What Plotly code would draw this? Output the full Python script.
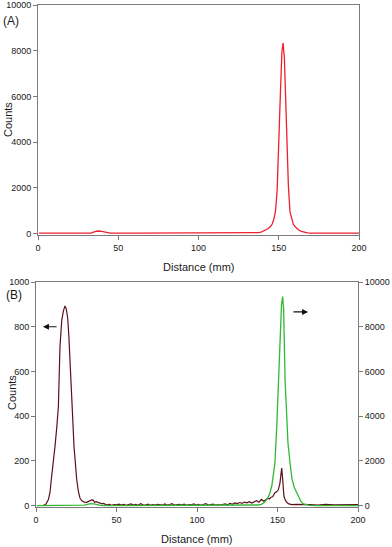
import plotly.graph_objects as go

# ---------------- Panel A data (red) ----------------
dist_a = [0.6, 10, 20, 30, 33, 35, 37, 39, 41, 43, 45, 60, 80, 100, 120, 135, 137, 139, 141,
          143, 145, 146, 147, 148, 149, 150, 151, 152, 152.7, 153.5, 154, 155, 156, 157,
          158, 159, 160, 161, 162, 164, 166, 168, 170, 185, 200]
counts_a = [20, 20, 20, 20, 25, 80, 115, 105, 80, 30, 20, 18, 18, 18, 20, 22, 45, 70, 120,
            200, 320, 430, 650, 1000, 1900, 3600, 6100, 8000, 8330, 7700, 6600, 4600, 2100, 950,
            620, 420, 320, 250, 180, 100, 60, 30, 18, 18, 18]

# ---------------- Panel B data ----------------
# dark red trace (left axis)
dist_b1 = [4.2, 6, 7.7, 8.7, 9.7, 10.8, 11.8, 12.9, 13.9, 14.9, 16, 17, 18, 18.8, 19.7, 20.4,
           21.1, 22.2, 23, 23.6, 24.4, 25.3, 26.3, 27.3, 28.5, 30, 31.5, 33, 34.6, 35.5, 36.4,
           37.3, 38.5, 39.8, 41, 42, 43.9, 45.5, 47, 48.5, 50, 51.5, 53, 54.5, 56, 57.5, 59,
           60.5, 62, 63.5, 65, 66.5, 68, 69.5, 71, 72.5, 74, 75.5, 77, 78.5, 80, 81.5, 83, 84.5,
           86, 87.5, 89, 90.5, 92, 93.5, 95, 96.5, 98, 99.5, 101, 102.5, 104, 105.5, 107, 108.5,
           110, 111.5, 113, 114.5, 116, 117.5, 119, 120.5, 122, 123.5, 125, 126.5, 128, 129.5,
           131, 132.5, 134, 135.5, 137, 138.5, 140, 141.5, 143, 144, 145, 146, 147, 148.4, 149.5,
           150.5, 151.5, 152, 152.6, 153.2, 154, 154.8, 155.7, 157, 159, 162, 166, 170, 175, 180,
           185, 190, 195, 200]
counts_b1 = [0, 5, 27, 60, 130, 190, 265, 350, 443, 711, 830, 870, 893, 880, 838, 760,
             667, 488, 360, 265, 180, 116, 65, 34, 22, 16, 15, 20, 26, 25, 15,
             18, 14, 13, 8, 10, 3, 6, 2, 5, 4, 7, 3, 6, 2, 5, 8,
             3, 6, 2, 9, 4, 3, 7, 2, 5, 3, 6, 4, 2, 8, 3, 5, 9,
             2, 4, 6, 3, 7, 2, 5, 4, 8, 3, 6, 2, 5, 9, 3, 4,
             7, 2, 5, 3, 6, 8, 4, 10, 6, 12, 9, 14, 10, 16,
             13, 18, 12, 17, 22, 15, 28, 20, 26, 33, 30, 38, 40, 58, 62,
             71, 100, 140, 168, 120, 42, 25, 15, 8, 5, 6, 4, 5, 3, 6,
             4, 5, 3, 5]

# green trace (right axis)
dist_b2 = [0.4, 25, 30, 32, 34, 36, 38, 40, 45, 100, 130, 138, 140, 142, 144, 145.3, 146.5,
           147.5, 148.4, 149.5, 150.5, 151.5, 152.5, 153.2, 153.8, 154.7, 155.5, 156.5, 157.8,
           159, 160.5, 161.9, 163, 164.5, 166, 168, 170, 175, 200]
counts_b2 = [0, 0, 20, 60, 90, 80, 40, 10, 0, 0, 10, 30, 60, 150, 350, 567, 900,
             1400, 1905, 3500, 5625, 7600, 9000, 9344, 8800, 5625, 4000, 2800, 1905,
             1200, 800, 567, 380, 200, 80, 30, 10, 0, 0]

x_ticks = [0, 50, 100, 150, 200]
ya_ticks = [0, 2000, 4000, 6000, 8000, 10000]
ya_labels = ["0", "2000", "4000", "6000", "8000", "10000"]
yb_ticks = [0, 200, 400, 600, 800, 1000]
yb_labels = ["0", "200", "400", "600", "800", "1000"]

FONT = "Liberation Sans, Arial, sans-serif"
AXIS_COL = "#7a7a7a"
TXT = "#1a1a1a"
W, H = 392, 547

fig = go.Figure()
fig.add_trace(go.Scatter(x=dist_a, y=counts_a, mode="lines",
                         line=dict(color="#ee2030", width=1.3), xaxis="x", yaxis="y"))
fig.add_trace(go.Scatter(x=dist_b2, y=counts_b2, mode="lines",
                         line=dict(color="#33b833", width=1.3), xaxis="x2", yaxis="y3"))
fig.add_trace(go.Scatter(x=dist_b1, y=counts_b1, mode="lines",
                         line=dict(color="#5a1218", width=1.2), xaxis="x2", yaxis="y2"))

ax_common = dict(showline=True, linecolor=AXIS_COL, linewidth=1, ticks="outside",
                 ticklen=4, tickcolor=AXIS_COL, showgrid=False, zeroline=False,
                 automargin=False, ticklabeloverflow="allow",
                 tickfont=dict(family=FONT, size=9, color=TXT))


def px(x):
    return x / W


def py(y):
    return 1 - y / H


fig.update_layout(
    width=W, height=H,
    margin=dict(l=0, r=0, t=0, b=0, autoexpand=False),
    paper_bgcolor="white", plot_bgcolor="white",
    showlegend=False,
    xaxis=dict(domain=[px(38), px(359)], anchor="y", range=[0, 200],
               tickvals=x_ticks, mirror=True, **ax_common),
    yaxis=dict(domain=[py(235), py(5)], anchor="x", range=[-60, 10000],
               tickvals=ya_ticks, ticktext=ya_labels, mirror=True, **ax_common),
    xaxis2=dict(domain=[px(36), px(358)], anchor="y2", range=[0, 200],
                tickvals=x_ticks, mirror=True, **ax_common),
    yaxis2=dict(domain=[py(507), py(282)], anchor="x2", range=[-6, 1000],
                tickvals=yb_ticks, ticktext=yb_labels, **ax_common),
    yaxis3=dict(overlaying="y2", side="right", anchor="x2", range=[-60, 10000],
                tickvals=ya_ticks, ticktext=ya_labels, **ax_common),
)

ann_font = dict(family=FONT, size=11, color=TXT)
centered = dict(xref="paper", yref="paper", xanchor="center", yanchor="middle",
                showarrow=False)
fig.add_annotation(x=px(199), y=py(267), text="Distance (mm)", font=ann_font, **centered)
fig.add_annotation(x=px(197), y=py(539), text="Distance (mm)", font=ann_font, **centered)
fig.add_annotation(x=px(8), y=py(120), text="Counts", textangle=-90, font=ann_font, **centered)
fig.add_annotation(x=px(12), y=py(393), text="Counts", textangle=-90, font=ann_font, **centered)
fig.add_annotation(x=px(11), y=py(21), text="(A)",
                   font=dict(family=FONT, size=12, color=TXT), **centered)
fig.add_annotation(x=px(14), y=py(295), text="(B)",
                   font=dict(family=FONT, size=12, color=TXT), **centered)

# arrows indicating which axis each trace uses
fig.add_annotation(x=4.3, y=800, ax=13.7, ay=800, xref="x2", yref="y2", axref="x2", ayref="y2",
                   showarrow=True, arrowhead=2, arrowsize=1, arrowwidth=1.2, arrowcolor="#111",
                   text="")
fig.add_annotation(x=169, y=8660, ax=159, ay=8660, xref="x2", yref="y3", axref="x2", ayref="y3",
                   showarrow=True, arrowhead=2, arrowsize=1, arrowwidth=1.2, arrowcolor="#111",
                   text="")

fig.write_html("out.html", config={"displayModeBar": False},
               post_script="document.body.style.margin='0';")
